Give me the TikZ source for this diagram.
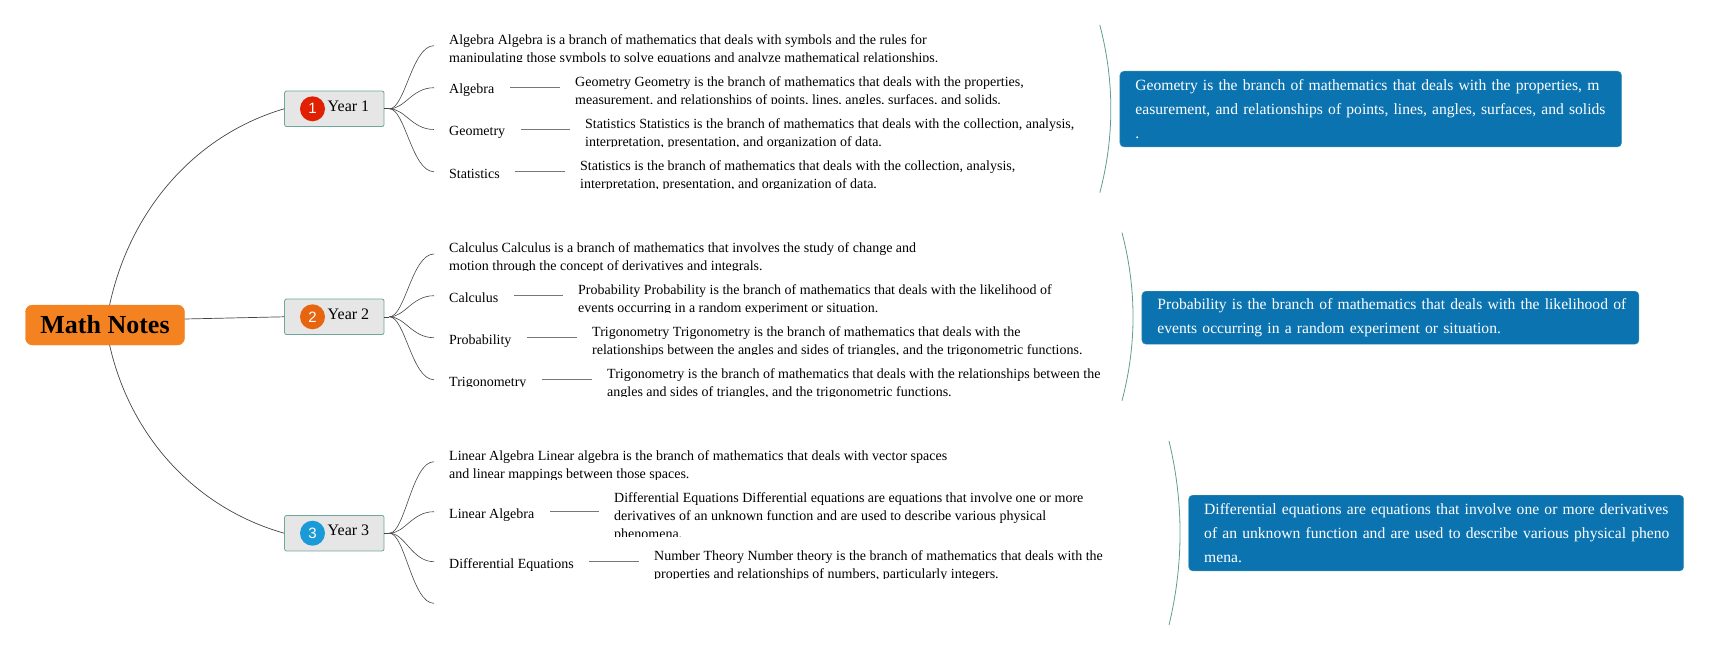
\documentclass[tikz,border=0pt]{standalone}
\usepackage{fontspec}
\setmainfont{Liberation Serif}
\newfontfamily\badgefont{Liberation Sans}
\hyphenpenalty=10000
\definecolor{rootorange}{HTML}{F58220}
\definecolor{notesblue}{HTML}{0B74B0}
\definecolor{noteedge}{HTML}{3F93A8}
\definecolor{yearfill}{HTML}{E6E6E6}
\definecolor{yearedge}{HTML}{6FA89A}
\definecolor{linkgray}{HTML}{444444}
\definecolor{branchgray}{HTML}{777777}
\definecolor{bracketteal}{HTML}{5E9E90}
\definecolor{badgeA}{HTML}{E02000}
\definecolor{badgeB}{HTML}{E8650F}
\definecolor{badgeC}{HTML}{1B9AD8}
\tikzset{
  rootbox/.style={draw=rootorange,fill=rootorange,rounded corners=7pt,minimum width=159pt,minimum height=40pt,inner sep=0pt,font=\fontsize{26}{30}\selectfont\bfseries},
  yearbox/.style={draw=yearedge,fill=yearfill,rounded corners=2pt,line width=.8pt,minimum width=99.5pt,minimum height=35.5pt,inner sep=0pt},
  yeartext/.style={anchor=base west,inner sep=0pt,font=\fontsize{16}{18}\selectfont},
  badgenode/.style={circle,minimum size=25pt,inner sep=0pt,text=white,font=\badgefont\fontsize{15}{15}\selectfont},
  textnode/.style={anchor=north west,inner sep=0pt,align=left,font=\fontsize{14}{18}\selectfont},
  labelnode/.style={anchor=west,inner sep=0pt,text height=12.6pt,text depth=0pt,font=\fontsize{14}{18}\selectfont},
  notebox/.style={anchor=north west,draw=noteedge,fill=notesblue,rounded corners=4pt,text=white,inner xsep=15.5pt,inner ysep=0pt,align=left,font=\fontsize{15.6}{23.6}\selectfont},
  link/.style={draw=linkgray,line width=.7pt},
  sublink/.style={draw=linkgray,line width=.6pt},
  branch/.style={draw=branchgray,line width=1pt,shorten <=15.5pt,shorten >=15.5pt},
  bracket/.style={draw=bracketteal,line width=.8pt},
}
\newcommand{\txtnode}[5]{\begin{scope}\clip ({#2-2},{#3-9}) rectangle ({#2+560},#4);\node[textnode] (#1) at (#2,{#3-7.4}) {\rule{0pt}{12pt}#5};\end{scope}}
\newcommand{\fan}[6]{\draw[sublink] (#1.east) -- ++(5,0) coordinate (#1h);
  \foreach \e/\ye in {#2/#3,#4/#5}{\draw[sublink] (#1h) .. controls ({405},{#6}) and ({412},\ye) .. (\e);}}
\begin{document}
\begin{tikzpicture}[x=1pt,y=-1pt]
\useasboundingbox (0,0) rectangle (1728,650);

\node[rootbox] (root) at (105,325) {Math Notes};
\node[yearbox] (y1) at (334.3,108.8) {};
\node[yearbox] (y2) at (334.3,316.8) {};
\node[yearbox] (y3) at (334.3,533.2) {};
\node[badgenode,fill=badgeA] (b1) at (312.5,108.8) {1};
\node[badgenode,fill=badgeB] (b2) at (312.5,316.8) {2};
\node[badgenode,fill=badgeC] (b3) at (312.5,533.2) {3};
\node[yeartext] (t1) at (327.5,111.6) {Year 1};
\node[yeartext] (t2) at (327.5,319) {Year 2};
\node[yeartext] (t3) at (327.5,535.4) {Year 3};

\coordinate (rt) at (109.6,305);
\coordinate (rb) at (109.6,345);
\draw[link] (rt) .. controls (130,210) and (195,135) .. (y1.west);
\draw[link] ([yshift=6pt]root.east) -- (y2.west);
\draw[link] (rb) .. controls (130,436) and (195,508) .. (y3.west);

% Year 1
\txtnode{a0}{449}{39.7}{62}{Algebra Algebra is a branch of mathematics that deals with symbols and the rules for\\manipulating those symbols to solve equations and analyze mathematical relationships.}
\node[labelnode] (a1) at (449,87.7) {Algebra};
\txtnode{a1t}{575}{81.7}{104}{Geometry Geometry is the branch of mathematics that deals with the properties,\\measurement, and relationships of points, lines, angles, surfaces, and solids.}
\node[labelnode] (a2) at (449,129.5) {Geometry};
\txtnode{a2t}{585}{123.3}{146.7}{Statistics Statistics is the branch of mathematics that deals with the collection, analysis,\\interpretation, presentation, and organization of data.}
\node[labelnode] (a3) at (449,171.7) {Statistics};
\txtnode{a3t}{580}{165.3}{188.3}{Statistics is the branch of mathematics that deals with the collection, analysis,\\interpretation, presentation, and organization of data.}
\draw[branch] (a1.east) -- (a1.east -| a1t.west);
\draw[branch] (a2.east) -- (a2.east -| a2t.west);
\draw[branch] (a3.east) -- (a3.east -| a3t.west);
\coordinate (ae0) at (434,45.7);
\coordinate (ae1) at (434,87.7);
\coordinate (ae2) at (434,129.5);
\coordinate (ae3) at (434,171.7);
\fan{y1}{ae0}{45.7}{ae3}{171.7}{108.8}
\fan{y1}{ae1}{87.7}{ae2}{129.5}{108.8}

% Year 2
\txtnode{c0}{449}{247.3}{270.7}{Calculus Calculus is a branch of mathematics that involves the study of change and\\motion through the concept of derivatives and integrals.}
\node[labelnode] (c1) at (449,295.7) {Calculus};
\txtnode{c1t}{578}{289.3}{312.7}{Probability Probability is the branch of mathematics that deals with the likelihood of\\events occurring in a random experiment or situation.}
\node[labelnode] (c2) at (449,337.7) {Probability};
\txtnode{c2t}{592}{331.3}{354.3}{Trigonometry Trigonometry is the branch of mathematics that deals with the\\relationships between the angles and sides of triangles, and the trigonometric functions.}
\begin{scope}\clip (440,365) rectangle (560,386);
\node[labelnode] (c3) at (449,379.7) {Trigonometry};
\end{scope}
\txtnode{c3t}{607}{373.3}{396.7}{Trigonometry is the branch of mathematics that deals with the relationships between the\\angles and sides of triangles, and the trigonometric functions.}
\draw[branch] (c1.east) -- (c1.east -| c1t.west);
\draw[branch] (c2.east) -- (c2.east -| c2t.west);
\draw[branch] (c3.east) -- (c3.east -| c3t.west);
\coordinate (ce0) at (434,254);
\coordinate (ce1) at (434,295.7);
\coordinate (ce2) at (434,337.7);
\coordinate (ce3) at (434,379.7);
\fan{y2}{ce0}{254}{ce3}{379.7}{316.8}
\fan{y2}{ce1}{295.7}{ce2}{337.7}{316.8}

% Year 3
\txtnode{d0}{449}{455.7}{479}{Linear Algebra Linear algebra is the branch of mathematics that deals with vector spaces\\and linear mappings between those spaces.}
\node[labelnode] (d1) at (449,511.7) {Linear Algebra};
\txtnode{d1t}{614}{497.7}{536.7}{Differential Equations Differential equations are equations that involve one or more\\derivatives of an unknown function and are used to describe various physical\\phenomena.}
\node[labelnode] (d2) at (449,561.7) {Differential Equations};
\txtnode{d2t}{654}{555.3}{578.3}{Number Theory Number theory is the branch of mathematics that deals with the\\properties and relationships of numbers, particularly integers.}
\draw[branch] (d1.east) -- (d1.east -| d1t.west);
\draw[branch] (d2.east) -- (d2.east -| d2t.west);
\coordinate (de0) at (434,461.7);
\coordinate (de1) at (434,511.7);
\coordinate (de2) at (434,561.7);
\coordinate (de3) at (434,603.3);
\fan{y3}{de0}{461.7}{de3}{603.3}{533.2}
\fan{y3}{de1}{511.7}{de2}{561.7}{533.2}

% Notes
\node[notebox,minimum width=501.6pt,minimum height=75.7pt,text width=470.6pt] (n1) at (1119.7,71) {\mbox{Geometry is the branch of mathematics that deals with the properties, m}\\\mbox{easurement, and relationships of points, lines, angles, surfaces, and solids}\\.};
\node[notebox,minimum width=497pt,minimum height=53pt,text width=466pt] (n2) at (1141.7,291) {\mbox{Probability is the branch of mathematics that deals with the likelihood of}\\\mbox{events occurring in a random experiment or situation.}};
\node[notebox,minimum width=495pt,minimum height=75.7pt,text width=464pt] (n3) at (1188.5,495) {\mbox{Differential equations are equations that involve one or more derivatives}\\\mbox{of an unknown function and are used to describe various physical pheno}\\mena.};

\coordinate (k1t) at (1099.8,25);
\coordinate (k1b) at (1099.8,192.7);
\coordinate (k2t) at (1122,232.7);
\coordinate (k2b) at (1122,400.7);
\coordinate (k3t) at (1169,441);
\coordinate (k3b) at (1169,625);
\draw[bracket] (k1t) .. controls (1114.5,81) and (1114.5,137) .. (k1b);
\draw[bracket] (k2t) .. controls (1136.7,289) and (1136.7,345) .. (k2b);
\draw[bracket] (k3t) .. controls (1183.7,502) and (1183.7,564) .. (k3b);
\end{tikzpicture}
\end{document}
